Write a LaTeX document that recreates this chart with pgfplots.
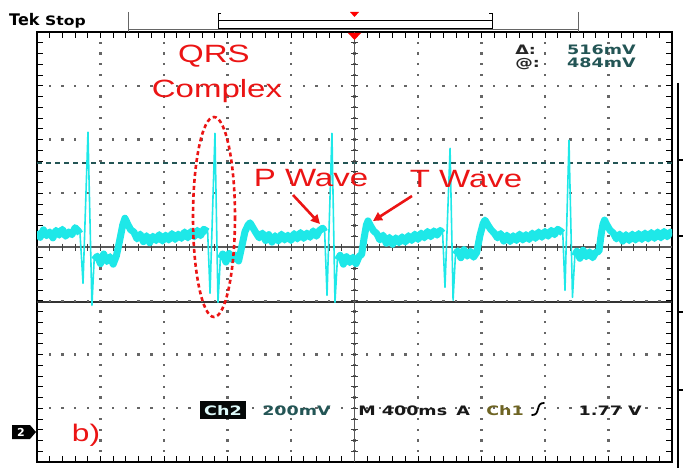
\documentclass[border=0pt]{standalone}
\usepackage{fontspec}
\setmainfont{Liberation Sans}
\newfontfamily\tekfont{DejaVu Sans}
\usepackage{pgfplots}
\pgfplotsset{compat=1.18}
\usepackage{pgfplotstable}
\usetikzlibrary{arrows.meta}

\definecolor{scope}{RGB}{30,232,232}
\definecolor{ann}{RGB}{235,20,20}
\definecolor{readout}{RGB}{35,85,85}
\definecolor{chone}{RGB}{110,100,35}

% Ch2 trace: t in s (M 400ms/div), v in mV above the Ch2 ground (200mV/div)
% b = same value on the noisy baseline, nan on the QRS strokes
\pgfplotstableread{
t v b
-2.000 746 746
-1.980 724 724
-1.960 752 752
-1.940 730 730
-1.920 744 744
-1.900 722 722
-1.880 750 750
-1.860 732 732
-1.840 754 754
-1.820 728 728
-1.800 744 744
-1.780 734 734
-1.760 760 760
-1.740 748 748
-1.729 738 738
-1.710 553 nan
-1.679 1115 nan
-1.654 471 nan
-1.640 640 640
-1.620 654 654
-1.600 626 626
-1.580 662 662
-1.560 634 634
-1.540 652 652
-1.520 624 624
-1.500 655 655
-1.480 710 710
-1.460 770 770
-1.446 795 795
-1.430 775 775
-1.410 752 752
-1.390 744 744
-1.370 718 718
-1.350 736 736
-1.330 708 708
-1.310 730 730
-1.290 704 704
-1.270 728 728
-1.250 712 712
-1.230 734 734
-1.210 710 710
-1.190 732 732
-1.170 714 714
-1.150 738 738
-1.130 716 716
-1.110 736 736
-1.090 720 720
-1.070 744 744
-1.050 722 722
-1.030 746 746
-1.010 726 726
-0.990 750 750
-0.970 730 730
-0.950 754 754
-0.925 745 745
-0.910 516 nan
-0.879 1111 nan
-0.860 482 nan
-0.845 645 645
-0.830 662 662
-0.810 632 632
-0.790 664 664
-0.770 640 640
-0.750 658 658
-0.730 636 636
-0.710 690 690
-0.690 745 745
-0.670 770 770
-0.658 778 778
-0.640 760 760
-0.620 740 740
-0.600 722 722
-0.580 740 740
-0.560 712 712
-0.540 734 734
-0.520 706 706
-0.500 730 730
-0.480 710 710
-0.460 736 736
-0.440 714 714
-0.420 732 732
-0.400 712 712
-0.380 738 738
-0.360 718 718
-0.340 742 742
-0.320 720 720
-0.300 740 740
-0.280 724 724
-0.260 748 748
-0.240 728 728
-0.220 750 750
-0.200 758 758
-0.188 745 745
-0.173 508 nan
-0.142 1111 nan
-0.123 482 nan
-0.108 640 640
-0.090 657 657
-0.070 624 624
-0.050 652 652
-0.030 630 630
-0.010 650 650
0.010 626 626
0.030 654 654
0.045 660 660
0.060 720 720
0.075 770 770
0.085 785 785
0.100 768 768
0.120 748 748
0.140 738 738
0.160 714 714
0.180 732 732
0.200 702 702
0.220 724 724
0.240 698 698
0.260 722 722
0.280 704 704
0.300 726 726
0.320 706 706
0.340 730 730
0.360 712 712
0.380 736 736
0.400 716 716
0.420 740 740
0.440 722 722
0.460 746 746
0.480 726 726
0.500 748 748
0.520 732 732
0.540 750 750
0.555 740 740
0.570 538 nan
0.602 1055 nan
0.621 490 nan
0.636 660 660
0.650 674 674
0.670 648 648
0.690 678 678
0.710 654 654
0.730 672 672
0.750 650 650
0.770 668 668
0.790 730 730
0.810 775 775
0.822 788 788
0.840 770 770
0.860 752 752
0.880 740 740
0.900 722 722
0.920 738 738
0.940 710 710
0.960 732 732
0.980 708 708
1.000 730 730
1.020 712 712
1.040 736 736
1.060 714 714
1.080 734 734
1.100 716 716
1.120 740 740
1.140 720 720
1.160 744 744
1.180 724 724
1.200 746 746
1.220 728 728
1.240 750 750
1.260 734 734
1.280 754 754
1.300 746 746
1.312 740 740
1.326 527 nan
1.351 1085 nan
1.373 501 nan
1.388 655 655
1.400 672 672
1.420 646 646
1.440 676 676
1.460 652 652
1.480 670 670
1.500 648 648
1.520 668 668
1.540 672 672
1.555 740 740
1.565 772 772
1.575 788 788
1.590 770 770
1.610 750 750
1.630 740 740
1.650 718 718
1.670 736 736
1.690 710 710
1.710 734 734
1.730 712 712
1.750 736 736
1.770 714 714
1.790 738 738
1.810 716 716
1.830 740 740
1.850 718 718
1.870 742 742
1.890 720 720
1.910 744 744
1.930 722 722
1.950 746 746
1.970 726 726
1.990 744 744
2.000 734 734
}\trace

\pgfplotsset{scopeaxis/.style={
  at={(37pt,-462pt)}, anchor=south west,
  scale only axis, width=635pt, height=430pt,
  xmin=-2, xmax=2, ymin=-112, ymax=1488,
}}

\begin{document}
\begin{tikzpicture}
\path[use as bounding box] (0pt,0pt) rectangle (683pt,-468pt);

% frame, border ticks and cursors
\begin{axis}[
  scopeaxis,
  xtick={-2,-1.6,-1.2,-0.8,-0.4,0,0.4,0.8,1.2,1.6,2},
  ytick={-112,88,288,488,688,888,1088,1288,1488},
  minor x tick num=4, minor y tick num=4,
  xticklabels={}, yticklabels={},
  tick align=inside,
  major tick length=6pt, minor tick length=6pt,
  tick style={black, line width=0.9pt},
  axis line style={black, line width=2.6pt},
]
% cursors: @ 484mV, @+delta = 1000mV
\addplot[no marks, draw=readout, line width=1.3pt, dash pattern=on 5pt off 4pt] coordinates {(-2,1000) (2,1000)};
\addplot[no marks, draw=black!80, line width=1.8pt] coordinates {(-2,484) (2,484)};
\end{axis}

\begin{scope}[x=1pt, y=-1pt]
% dotted graticule: a dot every 1/5 division
\foreach \i in {1,...,9}{
  \foreach \k in {1,...,39}{
    \fill[black!60] ({37+63.5*\i-1.2},{32+10.75*\k-1.2}) rectangle ({37+63.5*\i+1.2},{32+10.75*\k+1.2});
  }
}
\foreach \j in {1,...,7}{
  \foreach \k in {1,...,49}{
    \fill[black!60] ({37+12.7*\k-1.2},{32+53.75*\j-1.2}) rectangle ({37+12.7*\k+1.2},{32+53.75*\j+1.2});
  }
}
% centre cross of the graticule
\draw[black!65, line width=1.1pt] (37,247) -- (672,247);
\foreach \i in {1,...,49} \draw[black!75, line width=0.9pt] ({37+12.7*\i},243.5) -- ({37+12.7*\i},250.5);
\draw[black!65, line width=0.8pt] (354.5,32) -- (354.5,462);
\foreach \i in {1,...,39} \draw[black!75, line width=0.9pt] (351,{32+10.75*\i}) -- (358,{32+10.75*\i});
\end{scope}

% the Ch2 trace, above the graticule
\begin{axis}[scopeaxis, hide axis, unbounded coords=jump]
\addplot[no marks, draw=scope, line width=1.6pt, line join=round] table[x=t, y=v] {\trace};
\addplot[no marks, draw=scope, line width=7pt, line join=round] table[x=t, y=b] {\trace};
\end{axis}

\begin{scope}[x=1pt, y=-1pt]
\fill[red] (348,33) -- (361,33) -- (354.5,40) -- cycle;

% top status bar
\node[anchor=base west, inner sep=0pt, font=\tekfont\bfseries\fontsize{16}{16}\selectfont] at (9,26) {Tek};
\node[anchor=base west, inner sep=0pt, xscale=1.2, font=\tekfont\bfseries\fontsize{13}{13}\selectfont] at (45,26) {Stop};
\draw[black!60, line width=1pt] (128,12) -- (128,32) (578,12) -- (578,32);
\draw[black!60, line width=0.8pt] (128,29) -- (578,29);
\draw[black, line width=1pt] (218,21) rectangle (492,29);
\draw[black, line width=1pt] (221,14) -- (218,14) -- (218,29) (489,14) -- (492,14) -- (492,29);
\fill[red] (350,12) -- (359,12) -- (354.5,17) -- cycle;

% cursor readout
\begin{scope}[every node/.style={inner sep=0pt, xscale=1.35, font=\tekfont\bfseries\fontsize{13}{13}\selectfont}]
\node[anchor=base west, text=black!85] at (515,55) {Δ:};
\node[anchor=base west, text=black!85] at (515,68) {@:};
\node[anchor=base east, text=readout] at (636,55) {516mV};
\node[anchor=base east, text=readout] at (636,68) {484mV};
% bottom readout
\fill[black!90!readout] (200,401) rectangle (246,419);
\node[anchor=base, text=white!85!scope] at (223,415) {Ch2};
\node[anchor=base west, text=readout] at (262,415) {200mV};
\node[anchor=base west, text=black!90] at (358,415) {M 400ms};
\node[anchor=base west, text=black!90] at (456,415) {A};
\node[anchor=base west, text=chone] at (486,415) {Ch1};
\node[anchor=base east, text=black!90] at (642,415) {1.77 V};
\end{scope}
\draw[black, line width=1.8pt, line cap=round] (532,415) .. controls (536,415) and (537,413) .. (538,409) .. controls (539,405) and (540,403) .. (544,403);

% channel 2 ground marker
\fill[black] (12,425) -- (30,425) -- (36,432) -- (30,439) -- (12,439) -- cycle;
\node[text=white, inner sep=0pt, font=\tekfont\bfseries\fontsize{11}{11}\selectfont] at (21,432) {2};

% right bezel
\draw[black, line width=1.5pt] (678,83) -- (678,468);
\foreach \yy in {160,236,312,390} \draw[black, line width=1.5pt] (678,\yy) -- (683,\yy);

% annotations
\begin{scope}[every node/.style={inner sep=0pt, xscale=1.32, text=ann, font=\fontsize{25}{25}\selectfont}]
\node[anchor=base] at (214,63) {QRS};
\node[anchor=base] at (217,98) {Complex};
\node[anchor=base] at (311,186) {P Wave};
\node[anchor=base] at (466,187) {T Wave};
\node[anchor=base, font=\fontsize{24}{24}\selectfont] at (86,441) {b)};
\end{scope}
\draw[ann, line width=2.6pt, dash pattern=on 4pt off 3pt] (214,217) ellipse [x radius=21, y radius=100];
\draw[ann, line width=2.6pt, -{Triangle[length=9pt, width=9pt]}] (293,195) -- (320,224);
\draw[ann, line width=2.6pt, -{Triangle[length=9pt, width=9pt]}] (412,196) -- (373,221);
\end{scope}
\end{tikzpicture}
\end{document}
